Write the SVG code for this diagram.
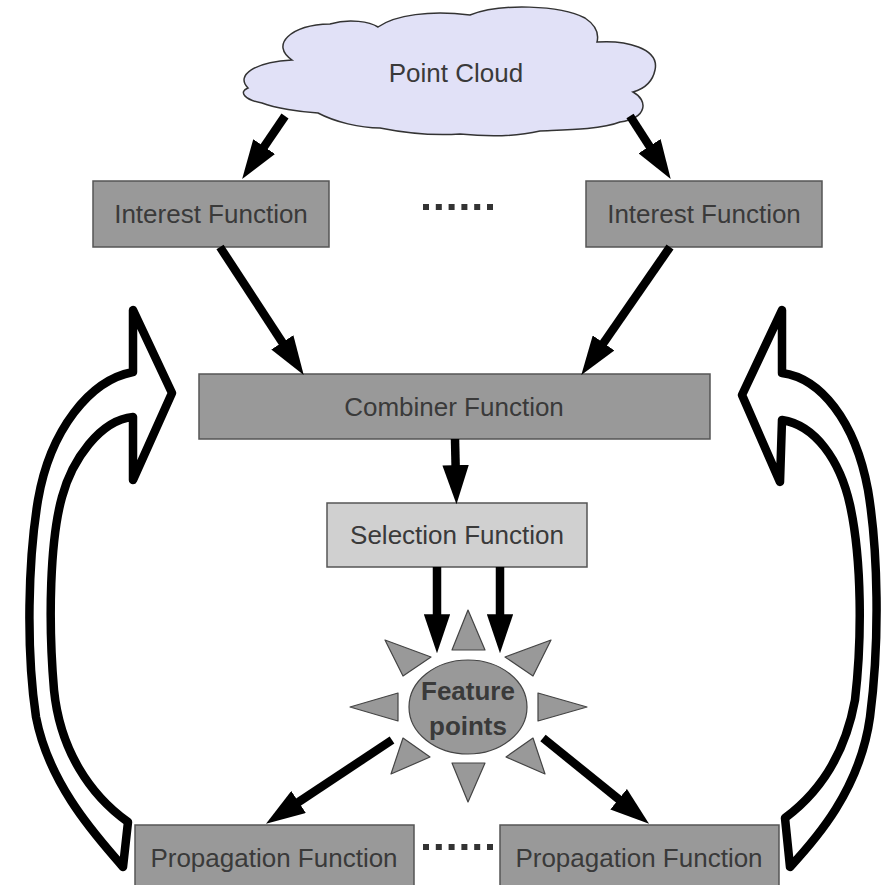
<svg xmlns="http://www.w3.org/2000/svg" width="884" height="885" viewBox="0 0 884 885">
  <style>
    .box { fill: #999999; stroke: #555555; stroke-width: 1.5; }
    .box-light { fill: #d0d0d0; stroke: #555555; stroke-width: 1.5; }
    .label { font-family: "Liberation Sans", Arial, sans-serif; font-size: 26px; fill: #3a3a3a; text-anchor: middle; }
    .bold { font-weight: bold; }
    .edge { stroke: #000000; stroke-width: 8.5; fill: none; marker-end: url(#head); }
    .dots { stroke: #333333; stroke-width: 6; stroke-dasharray: 6 6.8; fill: none; }
    .loop { fill: #ffffff; stroke: #000000; stroke-width: 8.5; stroke-linejoin: round; }
    .ray { fill: #999999; stroke: #444444; stroke-width: 1.2; stroke-linejoin: round; }
  </style>
  <defs>
    <marker id="head" viewBox="0 0 4.6 3.1" markerWidth="4.6" markerHeight="3.1" refX="2.1" refY="1.55" orient="auto" markerUnits="strokeWidth">
      <path d="M0,0 L4.6,1.55 L0,3.1 Z" fill="#000000"/>
    </marker>
  </defs>

  <rect width="884" height="885" fill="#ffffff"/>

  <!-- feedback loops -->
  <g id="loop-left">
    <path class="loop" d="M128,822 C90,795 60,750 54,690 C48,620 50,540 62,497 C72,460 100,420 133,417 L133,480 L172,393 L133,310 L133,372 C90,380 50,430 38,500 C28,560 26,650 36,717 C50,790 105,845 123,867 Z"/>
  </g>
  <g id="loop-right">
    <path class="loop" d="M785,818 C820,792 845,755 855,700 C862,640 862,560 850,505 C840,460 815,425 782,420 L780,482 L742,395 L782,310 L782,373 C820,378 855,420 868,490 C878,550 880,640 870,717 C860,790 815,840 790,867 Z"/>
  </g>

  <!-- source -->
  <g id="point-cloud">
    <path d="M248,88 C235,75 255,62 292,60 C270,45 290,25 330,24 C350,18 370,22 378,27 C395,15 430,10 470,15 C500,3 560,5 585,18 C600,28 598,38 597,42 C625,40 660,48 655,70 C652,85 640,90 633,92 C648,100 648,118 620,122 C600,130 560,130 540,131 C510,138 480,136 460,134 C430,136 400,132 380,128 C360,128 335,122 318,113 C300,112 275,108 262,103 C245,100 238,92 248,88 Z" fill="#e1e1f7" stroke="#333333" stroke-width="1.5"/>
    <text class="label" x="456" y="82">Point Cloud</text>
  </g>

  <g id="interest-left">
    <rect class="box" x="93" y="181" width="236" height="66"/>
    <text class="label" x="211" y="223">Interest Function</text>
  </g>
  <g id="interest-right">
    <rect class="box" x="586" y="181" width="236" height="66"/>
    <text class="label" x="704" y="223">Interest Function</text>
  </g>
  <g id="interest-ellipsis">
    <line class="dots" x1="423" y1="207" x2="494" y2="207"/>
  </g>

  <g id="combiner">
    <rect class="box" x="199" y="374" width="511" height="65"/>
    <text class="label" x="454" y="416">Combiner Function</text>
  </g>

  <g id="selection">
    <rect class="box-light" x="327" y="503" width="260" height="64"/>
    <text class="label" x="457" y="544">Selection Function</text>
  </g>

  <g id="feature-points">
    <polygon class="ray" points="468,610 452,650 485,650"/>
    <polygon class="ray" points="385,640 431,657 403,676"/>
    <polygon class="ray" points="551,640 505,657 533,676"/>
    <polygon class="ray" points="350,707 398,693 398,721"/>
    <polygon class="ray" points="587,707 538,693 538,721"/>
    <polygon class="ray" points="403,738 430,757 391,774"/>
    <polygon class="ray" points="533,738 506,757 545,774"/>
    <polygon class="ray" points="468,802 452,763 485,763"/>
    <ellipse cx="468" cy="707" rx="59" ry="47" fill="#999999" stroke="#444444" stroke-width="1.2"/>
    <text class="label bold" x="468" y="700">Feature</text>
    <text class="label bold" x="468" y="735">points</text>
  </g>

  <g id="propagation-left">
    <rect class="box" x="135" y="825" width="279" height="65"/>
    <text class="label" x="274" y="867">Propagation Function</text>
  </g>
  <g id="propagation-right">
    <rect class="box" x="500" y="825" width="279" height="65"/>
    <text class="label" x="639" y="867">Propagation Function</text>
  </g>
  <g id="propagation-ellipsis">
    <line class="dots" x1="423" y1="847" x2="494" y2="847"/>
  </g>

  <!-- connectors -->
  <g id="connectors">
    <line class="edge" x1="285" y1="116" x2="254.1" y2="161.4"/>
    <line class="edge" x1="630" y1="116" x2="659.2" y2="161.2"/>
    <line class="edge" x1="220" y1="247" x2="292.1" y2="357.3"/>
    <line class="edge" x1="670" y1="247" x2="593.4" y2="357.6"/>
    <line class="edge" x1="455" y1="439" x2="456" y2="483"/>
    <line class="edge" x1="437" y1="567" x2="437" y2="632"/>
    <line class="edge" x1="500" y1="567" x2="500" y2="632"/>
    <line class="edge" x1="392" y1="740" x2="283.7" y2="811.9"/>
    <line class="edge" x1="543" y1="738" x2="632.5" y2="810.4"/>
  </g>
</svg>
